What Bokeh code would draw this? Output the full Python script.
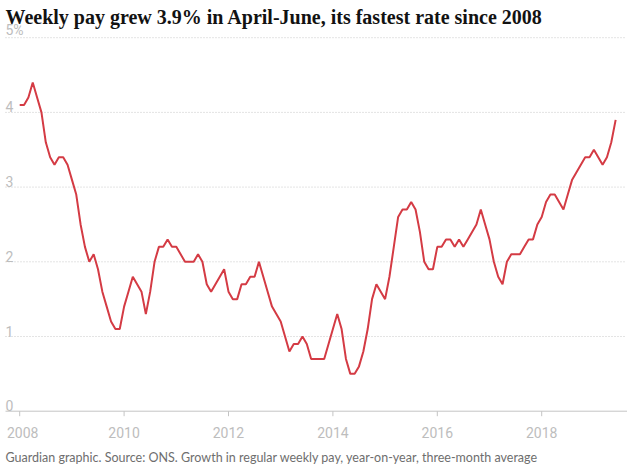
import math
import pandas as pd
from bokeh.plotting import figure
from bokeh.models import Range1d, Label, LabelSet, ColumnDataSource
from bokeh.core.properties import value
from bokeh.embed import file_html
from bokeh.resources import INLINE

# ---------------- data ----------------
title_text = "Weekly pay grew 3.9% in April-June, its fastest rate since 2008"
footer_text = ("Guardian graphic. Source: ONS. Growth in regular weekly pay, "
               "year-on-year, three-month average")

start_month = "2008-01"
pay_growth = [
    4.1, 4.1, 4.2, 4.4, 4.2, 4.0, 3.6, 3.4, 3.3, 3.4, 3.4, 3.3,   # 2008
    3.1, 2.9, 2.5, 2.2, 2.0, 2.1, 1.9, 1.6, 1.4, 1.2, 1.1, 1.1,   # 2009
    1.4, 1.6, 1.8, 1.7, 1.6, 1.3, 1.6, 2.0, 2.2, 2.2, 2.3, 2.2,   # 2010
    2.2, 2.1, 2.0, 2.0, 2.0, 2.1, 2.0, 1.7, 1.6, 1.7, 1.8, 1.9,   # 2011
    1.6, 1.5, 1.5, 1.7, 1.7, 1.8, 1.8, 2.0, 1.8, 1.6, 1.4, 1.3,   # 2012
    1.2, 1.0, 0.8, 0.9, 0.9, 1.0, 0.9, 0.7, 0.7, 0.7, 0.7, 0.9,   # 2013
    1.1, 1.3, 1.1, 0.7, 0.5, 0.5, 0.6, 0.8, 1.1, 1.5, 1.7, 1.6,   # 2014
    1.5, 1.8, 2.2, 2.6, 2.7, 2.7, 2.8, 2.7, 2.4, 2.0, 1.9, 1.9,   # 2015
    2.2, 2.2, 2.3, 2.3, 2.2, 2.3, 2.2, 2.3, 2.4, 2.5, 2.7, 2.5,   # 2016
    2.3, 2.0, 1.8, 1.7, 2.0, 2.1, 2.1, 2.1, 2.2, 2.3, 2.3, 2.5,   # 2017
    2.6, 2.8, 2.9, 2.9, 2.8, 2.7, 2.9, 3.1, 3.2, 3.3, 3.4, 3.4,   # 2018
    3.5, 3.4, 3.3, 3.4, 3.6, 3.9,                                 # 2019
]
x_ticks = [2008, 2010, 2012, 2014, 2016, 2018]
x_tick_labels = ["2008", "2010", "2012", "2014", "2016", "2018"]
y_ticks = [0, 1, 2, 3, 4, 5]
y_tick_labels = ["0", "1", "2", "3", "4", "5%"]

# ---------------- derived ----------------
months = pd.date_range(start_month, periods=len(pay_growth), freq="MS")
x_vals = list(months.year + (months.month - 1) / 12.0)

# ---------------- layout / style ----------------
W, H = 627, 466
px_per_year = 52.2          # horizontal scale
px_per_unit = 74.7          # vertical scale (per percentage point)
tick0_px = 19.2             # screen x of first year tick
zero_px = 410.7             # screen y of the 0 line
x_start = x_ticks[0] - tick0_px / px_per_year
x_end = x_start + W / px_per_year
y_end = zero_px / px_per_unit
y_start = -(H - zero_px) / px_per_unit


def x_at(px):
    return x_start + px / px_per_year


LABEL_GREY = "#bdbdbd"
GRID_GREY = "#c8c8c8"
AXIS_GREY = "#c4c4c4"
LINE_RED = "#d43b44"
SANS = "Roboto"

p = figure(width=W, height=H,
           x_range=Range1d(x_start, x_end), y_range=Range1d(y_start, y_end),
           output_backend="svg", toolbar_location=None,
           x_axis_location=None, y_axis_location=None,
           min_border_left=0, min_border_right=0,
           min_border_top=0, min_border_bottom=0)
p.outline_line_color = None
p.background_fill_color = "white"
p.border_fill_color = "white"
p.grid.visible = False

gx0, gx1 = x_at(5), x_at(625)
grid_vals = y_ticks[1:]
# dotted horizontal gridlines
p.segment(x0=[gx0] * len(grid_vals), x1=[gx1] * len(grid_vals),
          y0=grid_vals, y1=grid_vals,
          line_color=GRID_GREY, line_width=1, line_dash="1 2")
# solid baseline at zero
p.segment(x0=[gx0], x1=[x_at(W)], y0=[y_ticks[0]], y1=[y_ticks[0]],
          line_color=AXIS_GREY, line_width=1)
# tick marks below the baseline
p.ray(x=x_ticks, y=[y_ticks[0]] * len(x_ticks), length=5, length_units="screen",
      angle=-math.pi / 2, line_color=AXIS_GREY, line_width=1)

# y labels above gridlines
p.text(x=[gx0] * len(y_ticks), y=y_ticks, text=y_tick_labels,
       text_align="left", text_baseline="bottom",
       text_font=value(SANS), text_font_size="14px", text_color=LABEL_GREY)

# x labels
xsrc = ColumnDataSource(dict(x=x_ticks, y=[y_ticks[0]] * len(x_ticks),
                             text=x_tick_labels,
                             xoff=[3] + [0] * (len(x_ticks) - 1)))
p.add_layout(LabelSet(x="x", y="y", text="text", source=xsrc,
                      x_offset="xoff", y_offset=-21,
                      text_align="center", text_baseline="middle",
                      text_font=value(SANS), text_font_size="14px",
                      text_color=LABEL_GREY))

# the series
p.line(x_vals, pay_growth, line_color=LINE_RED, line_width=2)

# title and footer
p.add_layout(Label(x=gx0, y=y_end, text=title_text, y_offset=-16,
                   text_align="left", text_baseline="middle",
                   text_font="Liberation Serif", text_font_style="bold",
                   text_font_size="20px", text_color="#121212"))
p.add_layout(Label(x=gx0, y=y_ticks[0], text=footer_text, y_offset=-46,
                   text_align="left", text_baseline="middle",
                   text_font="Lato", text_font_size="12.5px",
                   text_color="#6e6e6e"))

open("out.html", "w").write(file_html(p, INLINE))
